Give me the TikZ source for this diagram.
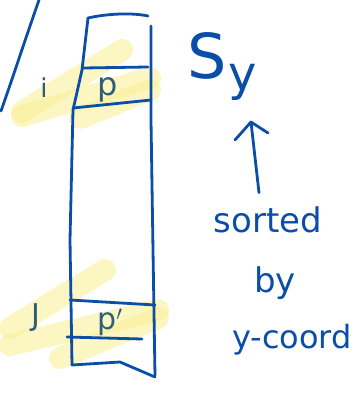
\documentclass[tikz,border=0pt]{standalone}
\usepackage{fontspec}
\setmainfont{DejaVu Sans}
\begin{document}
\begin{tikzpicture}[x=1pt,y=-1pt,
  ink/.style={draw=inkblue,line width=2.8pt,line cap=round,line join=round},
  hl/.style={draw=hlyellow,line width=22pt,line cap=round,opacity=0.6},
  txt/.style={text=inkblue,inner sep=0pt},
  lbl/.style={text=inkgray,inner sep=0pt}]
\definecolor{inkblue}{HTML}{0B4EA8}
\definecolor{inkgray}{HTML}{2F5F78}
\definecolor{hlyellow}{HTML}{FAF09A}
\useasboundingbox (0,0) rectangle (361,393);
% highlights top
\draw[hl] (22,112) -- (122,50);
\draw[hl] (22,116) -- (150,78);
\draw[hl] (80,118) -- (150,90);
% highlights bottom
\draw[hl] (10,328) -- (105,270);
\draw[hl] (10,345) -- (158,310);
\draw[hl] (60,358) -- (158,318);
% left stroke
\draw[ink] (39,0) .. controls (25,40) and (12,80) .. (1,111);
% column
\draw[ink] (88,18) .. controls (110,13) and (135,13) .. (148,16);
\draw[ink] (151,26) -- (151,120) -- (153,250) -- (155,376);
\draw[ink] (88,18) -- (82,70) -- (73,110) -- (70,240) -- (72,365);
\draw[ink] (72,365) -- (120,362) -- (155,377);
% rows
\draw[ink] (83,68) -- (148,67);
\draw[ink] (73,108) -- (151,100);
\draw[ink] (70,300) -- (155,305);
\draw[ink] (67,337) -- (142,339);
% labels
\node[lbl,font=\fontsize{26}{26}\selectfont] (i) at (44,88) {i};
\node[lbl,font=\fontsize{32}{32}\selectfont] (p) at (108,90) {p};
\node[lbl,font=\fontsize{30}{30}\selectfont] (J) at (36,318) {J};
\node[lbl,font=\fontsize{30}{30}\selectfont] (pp) at (110,322) {p$'$};
% right texts
\node[txt,font=\fontsize{62}{62}\selectfont] (S) at (222,66) {S\kern2pt\raisebox{-12pt}{\fontsize{48}{48}\selectfont y}};
\node[txt,font=\fontsize{34}{34}\selectfont] (sorted) at (268,220) {sorted};
\node[txt,font=\fontsize{34}{34}\selectfont] (by) at (275,283) {by};
\node[txt,font=\fontsize{32}{32}\selectfont] (yc) at (292,340) {y-coord};
\draw[ink] (sorted.north) ++(-9,-14) coordinate (a0) -- (251,122) coordinate (a1);
\draw[ink] (235,140) -- (a1) -- (268,133);
\end{tikzpicture}
\end{document}
